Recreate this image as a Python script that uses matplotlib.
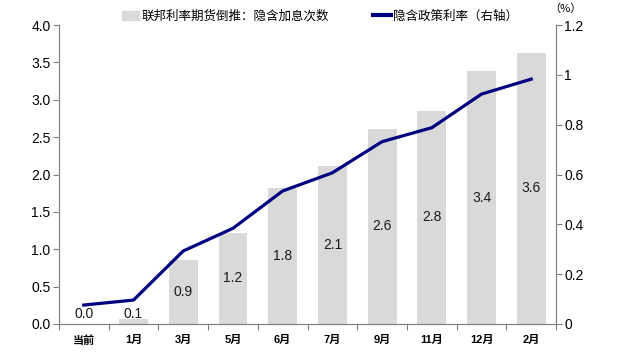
import numpy as np
import matplotlib
matplotlib.use('Agg')
import matplotlib.pyplot as plt
from matplotlib.patches import Patch
from matplotlib.lines import Line2D

plt.rcParams['font.family'] = ['Liberation Sans', 'Noto Sans CJK SC']

# データ
categories = ['当前', '1月', '3月', '5月', '6月', '7月', '9月', '11月', '12月', '2月']
hikes = [0.0, 0.07, 0.86, 1.22, 1.82, 2.11, 2.61, 2.85, 3.38, 3.63]
hike_labels = ['0.0', '0.1', '0.9', '1.2', '1.8', '2.1', '2.6', '2.8', '3.4', '3.6']
policy_rate = [0.076, 0.096, 0.293, 0.384, 0.534, 0.607, 0.732, 0.788, 0.923, 0.983]

fig = plt.figure(figsize=(6.2, 3.58), dpi=100)
ax = fig.add_axes([0.095, 0.095, 0.802, 0.835])
ax2 = ax.twinx()

x = np.arange(len(categories))
ax.bar(x, hikes, width=0.58, color='#d9d9d9', zorder=1)
for xi, v, lab in zip(x, hikes, hike_labels):
    ax.text(xi, max(v / 2, 0.14), lab, ha='center', va='center',
            fontsize=10, color='#1a1a1a')

ax2.plot(x, policy_rate, color='#000080', linewidth=2.3)

ax.set_xlim(-0.5, len(categories) - 0.5)
ax.set_ylim(0, 4.0)
ax.set_yticks(np.arange(0, 4.01, 0.5))
ax.set_yticklabels(['%.1f' % v for v in np.arange(0, 4.01, 0.5)])
ax2.set_ylim(0, 1.2)
ax2.set_yticks([0, 0.2, 0.4, 0.6, 0.8, 1.0, 1.2])
ax2.set_yticklabels(['0', '0.2', '0.4', '0.6', '0.8', '1', '1.2'])

# 横軸の目盛り
ax.set_xticks(np.arange(-0.5, len(categories), 1.0))
ax.set_xticklabels([])
ax.set_xticks(x, minor=True)
ax.set_xticklabels(categories, minor=True, fontsize=8, fontweight='bold')
ax.tick_params(axis='x', which='minor', length=0, pad=8)
ax.tick_params(axis='x', which='major', length=4, color='#808080')

for a in (ax, ax2):
    a.spines['top'].set_visible(False)
    for s in ('left', 'right', 'bottom'):
        a.spines[s].set_color('#808080')
ax.tick_params(axis='y', length=4, color='#808080', labelsize=10, pad=2)
ax2.tick_params(axis='y', length=4, color='#808080', labelsize=10, pad=2)

fig.text(0.912, 0.975, '（%）', fontsize=8, ha='center', va='center',
         family=['Noto Sans CJK SC'])

handles = [Patch(color='#d9d9d9'), Line2D([], [], color='#000080', linewidth=3)]
labels = ['联邦利率期货倒推：隐含加息次数', '隐含政策利率（右轴）']
fig.legend(handles, labels, loc='center', bbox_to_anchor=(0.516, 0.955), ncol=2,
           frameon=False, handlelength=1.4, handletextpad=0.2,
           columnspacing=3.5, prop={'family': ['Noto Sans CJK SC'], 'size': 9})

fig.savefig('out.png', dpi=100)
